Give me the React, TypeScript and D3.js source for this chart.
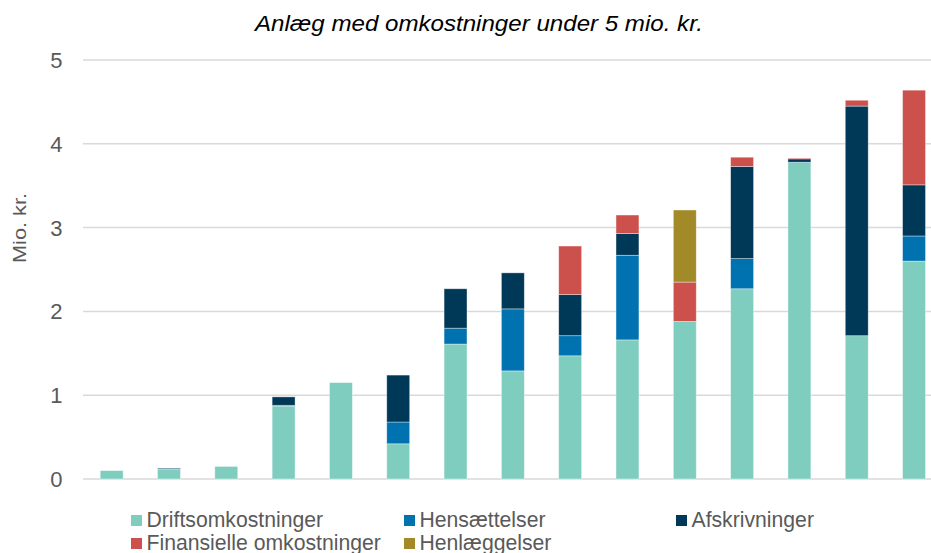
import React from "react";
import * as d3 from "d3";

const categories = ["1","2","3","4","5","6","7","8","9","10","11","12","13","14","15"];
const seriesNames = ["Driftsomkostninger", "Hensættelser", "Afskrivninger", "Finansielle omkostninger", "Henlæggelser"];
const seriesColors = ["#7FCDBE", "#0072B0", "#003857", "#CC514D", "#A38A28"];
const drift = [0.10, 0.12, 0.15, 0.87, 1.15, 0.42, 1.61, 1.29, 1.47, 1.66, 1.88, 2.27, 3.78, 1.71, 2.60];
const hens = [0, 0, 0, 0.01, 0, 0.26, 0.19, 0.74, 0.24, 1.01, 0, 0.36, 0, 0, 0.30];
const afsk = [0, 0.01, 0, 0.10, 0, 0.56, 0.47, 0.43, 0.49, 0.26, 0, 1.10, 0.04, 2.74, 0.61];
const fin = [0, 0, 0, 0, 0, 0, 0, 0, 0.58, 0.22, 0.47, 0.11, 0.01, 0.07, 1.13];
const henl = [0, 0, 0, 0, 0, 0, 0, 0, 0, 0, 0.86, 0, 0, 0, 0];
const yTicks = [0, 1, 2, 3, 4, 5];
const title = "Anlæg med omkostninger under 5 mio. kr.";
const yLabel = "Mio. kr.";

const W = 931, H = 553;

export default function App() {
  const seriesValues = [drift, hens, afsk, fin, henl];
  const rows = categories.map((c, i) => {
    const r: any = { cat: c };
    seriesNames.forEach((s, k) => (r[s] = seriesValues[k][i]));
    return r;
  });
  const stacked = d3.stack().keys(seriesNames)(rows);

  const x = d3.scaleBand().domain(categories).range([83, 942.7]).paddingInner(0.6).paddingOuter(0.3);
  const y = d3.scaleLinear().domain([0, 5]).range([479, 60]);

  const legendPos = [
    [131, 527], [404, 527], [676, 527], [131, 550], [404, 550],
  ];
  const font = "'Liberation Sans', Arial, sans-serif";

  return (
    <svg width={W} height={H} style={{ position: "absolute", left: 0, top: 0, background: "#fff" }} fontFamily={font}>
      <text x={255} y={31} fontSize={22.5} fontStyle="italic" fill="#000" textLength={448} lengthAdjust="spacingAndGlyphs">{title}</text>
      {yTicks.map((t) => (
        <g key={t}>
          <line x1={83} x2={W} y1={y(t)} y2={y(t)} stroke="#D9D9D9" strokeWidth={1.5} />
          <text x={62.5} y={y(t)} dy="0.36em" textAnchor="end" fontSize={22} fill="#595959">{t}</text>
        </g>
      ))}
      <text transform={`translate(25.5,228) rotate(-90)`} textAnchor="middle" fontSize={18.5} fill="#595959"
        textLength={70} lengthAdjust="spacingAndGlyphs">{yLabel}</text>
      {stacked.map((s, k) => (
        <g key={s.key} fill={seriesColors[k]}>
          {s.map((d, i) =>
            d[1] - d[0] > 0 ? (
              <rect key={i} x={x(categories[i])} width={x.bandwidth()} y={y(d[1])} height={y(d[0]) - y(d[1])}
                stroke="#ffffff" strokeOpacity={0.5} strokeWidth={0.75} />
            ) : null
          )}
        </g>
      ))}
      {seriesNames.map((s, k) => (
        <g key={s}>
          <rect x={legendPos[k][0]} y={legendPos[k][1] - 12} width={11} height={11} fill={seriesColors[k]} />
          <text x={legendPos[k][0] + 15.5} y={legendPos[k][1]} fontSize={21.2} fill="#595959">{s}</text>
        </g>
      ))}
    </svg>
  );
}
